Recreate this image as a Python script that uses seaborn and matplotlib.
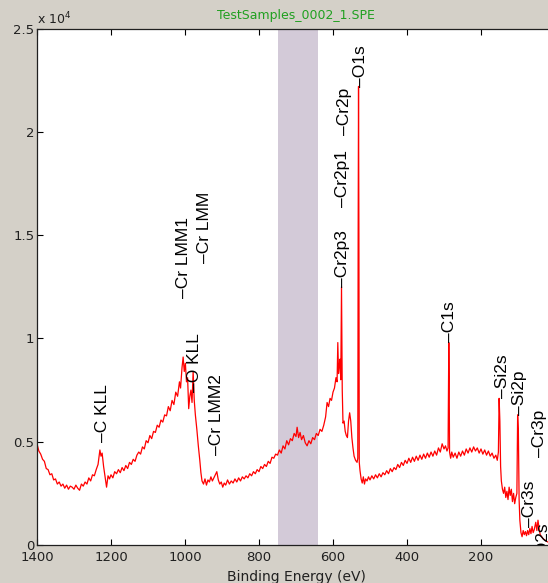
import matplotlib
matplotlib.use("Agg")
import matplotlib.pyplot as plt
import seaborn as sns
import pandas as pd
from matplotlib.ticker import FuncFormatter, FixedLocator

# ---- data (binding energy in eV, intensity in counts) ----
energy = [1400, 1395, 1390, 1385, 1380, 1375, 1370, 1365, 1360, 1355, 1350, 1345, 1340, 1335, 1330, 1325,
          1320, 1315, 1310, 1305, 1300, 1295, 1290, 1285, 1280, 1275, 1270, 1265, 1260, 1255, 1250, 1245,
          1240, 1235, 1230, 1227, 1224, 1220, 1216, 1212, 1208, 1204, 1200, 1195, 1190, 1185, 1180, 1175,
          1170, 1165, 1160, 1155, 1150, 1145, 1140, 1135, 1130, 1125, 1120, 1115, 1110, 1105, 1100, 1095,
          1090, 1085, 1080, 1075, 1070, 1065, 1060, 1055, 1050, 1045, 1040, 1035, 1030, 1025, 1020, 1015,
          1012, 1008, 1005, 1002, 999, 996, 993, 990, 987, 984, 981, 978, 975, 972, 968, 964, 960, 957, 954,
          950, 946, 942, 938, 934, 930, 926, 922, 918, 914, 910, 906, 902, 898, 894, 890, 885, 880, 875, 870,
          865, 860, 855, 850, 845, 840, 835, 830, 825, 820, 815, 810, 805, 800, 795, 790, 785, 780, 775, 770,
          765, 760, 755, 750, 745, 740, 735, 730, 725, 720, 715, 710, 705, 700, 697, 693, 689, 685, 680, 675,
          670, 665, 660, 655, 650, 645, 640, 635, 630, 625, 620, 616, 612, 608, 604, 600, 596, 592, 589, 587,
          585, 583, 581, 579, 577, 575, 573, 570, 567, 564, 561, 558, 555, 552, 549, 546, 543, 539, 535, 533,
          532, 531, 530, 529, 527, 524, 521, 518, 515, 512, 508, 504, 500, 495, 490, 485, 480, 475, 470, 465,
          460, 455, 450, 445, 440, 435, 430, 425, 420, 415, 410, 405, 400, 395, 390, 385, 380, 375, 370, 365,
          360, 355, 350, 345, 340, 335, 330, 325, 320, 315, 310, 305, 300, 296, 292, 289, 287, 286, 285, 282,
          279, 275, 270, 265, 260, 255, 250, 245, 240, 235, 230, 225, 220, 215, 210, 205, 200, 195, 190, 185,
          180, 175, 170, 165, 160, 156, 153, 151, 149, 147, 145, 142, 139, 136, 133, 130, 127, 124, 121, 118,
          115, 112, 109, 106, 103, 101, 99, 97, 95, 92, 89, 86, 83, 80, 77, 74, 71, 68, 65, 62, 59, 56, 52,
          49, 46, 43, 40, 36, 32, 28, 24, 20]
intensity = [4900, 4550, 4400, 4150, 4050, 3700, 3650, 3400, 3450, 3150, 3200, 2950, 3050, 2850, 2950, 2750,
             2900, 2700, 2850, 2800, 2700, 2900, 2750, 2650, 2950, 2850, 3050, 2950, 3250, 3100, 3400, 3350,
             3650, 3900, 4600, 4300, 4450, 3800, 3300, 2800, 3350, 3200, 3400, 3250, 3550, 3450, 3650, 3500,
             3750, 3600, 3850, 3700, 4000, 3900, 4150, 4050, 4350, 4500, 4400, 4750, 4650, 5050, 4950, 5300,
             5150, 5500, 5450, 5800, 5700, 6050, 5950, 6300, 6250, 6700, 6500, 7000, 6800, 7400, 7200, 7900,
             7600, 8600, 9100, 8400, 8800, 7900, 8100, 6600, 7200, 7500, 6900, 8400, 7000, 6300, 5600, 4800,
             4100, 3500, 3100,
             2950, 3200, 2900, 3150, 3050, 3300, 3100, 3250, 3400, 3550, 3150, 2950, 3050, 2800, 3000, 2900,
             3150, 2950, 3100, 3000,
             3200, 3050, 3250, 3100, 3300, 3200, 3350, 3250, 3450, 3350, 3550, 3450, 3650, 3550, 3800, 3700,
             3900, 3800, 4050, 3950,
             4250, 4200, 4400, 4350, 4600, 4450, 4800, 4650, 5050, 4850, 5150, 5050, 5400, 5250, 5700, 5200,
             5450, 5100, 5300, 4950,
             4800, 5050, 4900, 5200, 5100, 5400, 5300, 5600, 5500, 5800, 6200, 6900, 6700, 7100, 7000, 7400,
             7600, 8100, 7900, 9800,
             8300, 8700, 9000, 8000, 12500, 7500, 5900, 6000, 5500, 5300, 5200, 6000, 6400, 6000, 5200, 4700,
             4300, 4100, 4000, 4200,
             15000, 22200, 15200, 4000, 3600, 3200, 3000, 3300, 2950, 3200, 3100, 3300, 3150, 3350, 3200, 3400,
             3250, 3450, 3300, 3500,
             3400, 3600, 3450, 3700, 3550, 3750, 3650, 3900, 3750, 4000, 3850, 4100, 3950, 4200, 4000, 4250,
             4050, 4300, 4100, 4350,
             4150, 4400, 4200, 4450, 4250, 4500, 4300, 4550, 4350, 4700, 4500, 4900, 4650, 4800, 4550, 4700,
             9800, 8100, 4500, 4200,
             4500, 4250, 4450, 4200, 4500, 4300, 4550, 4350, 4650, 4450, 4700, 4500, 4750, 4550, 4700, 4450,
             4650, 4400, 4600, 4350,
             4550, 4300, 4450, 4200, 4350, 4100, 4500, 7100, 6000, 3800, 3100, 2700, 2500, 2800, 2300, 2600,
             2200, 2800, 2400, 2700,
             2100, 2500, 2000, 2300, 2500, 6300, 5500, 2200, 1200, 600, 400, 700, 500, 650, 450, 700, 500, 800,
             550, 900, 600, 750, 1100,
             700, 1200, 800, 500, 400, 300, 250, 200, 150]

# ---- peak labels: text, energy position, intensity of label start ----
label_texts = ["C KLL", "Cr LMM1", "Cr LMM", "O KLL", "Cr LMM2", "Cr2p3", "Cr2p1", "Cr2p", "O1s",
               "C1s", "Si2s", "Si2p", "Cr3p", "Cr3s", "O2s"]
label_energy = [1224, 1005, 946, 973, 914, 573, 573, 569, 527, 284, 143, 95, 41, 68, 32]
label_level = [4990, 11960, 13660, 7410, 4360, 12490, 16370, 19850, 22180, 9830, 7120, 6300, 4260, 870, -970]

title_text = "TestSamples_0002_1.SPE"
x_ticks = [1400, 1200, 1000, 800, 600, 400, 200, 0]
y_ticks = [0, 5000, 10000, 15000, 20000, 25000]
band = (750, 640)

df = pd.DataFrame({"Binding Energy (eV)": energy, "Intensity": intensity})

bg = "#d4d0c8"
fig = plt.figure(figsize=(5.48, 5.83), dpi=100, facecolor=bg)
W, H = 548, 583
ax = fig.add_axes([37 / W, 1 - 545 / H, (555 - 37) / W, (545 - 28.6) / H])
ax.set_facecolor("white")

ax.axvspan(band[0], band[1], color="#d3cad8", lw=0, zorder=0)
sns.lineplot(data=df, x="Binding Energy (eV)", y="Intensity", ax=ax, color="#ff0000",
             linewidth=0.9, estimator=None, sort=False, zorder=2)

ax.set_xlim(1400, 0)
ax.set_ylim(0, 25000)
ax.xaxis.set_major_locator(FixedLocator(x_ticks))
ax.yaxis.set_major_locator(FixedLocator(y_ticks))
ax.yaxis.set_major_formatter(FuncFormatter(lambda v, p: f"{v/1e4:g}"))
ax.xaxis.set_major_formatter(FuncFormatter(lambda v, p: f"{v:g}"))
ax.tick_params(direction="in", length=4, width=0.8, top=True, right=True,
               labelsize=9.5, labelcolor="#202020")
ax.tick_params(axis="x", pad=4)
ax.tick_params(axis="y", pad=2)
for s in ax.spines.values():
    s.set_linewidth(0.9)
    s.set_color("#202020")
ax.set_ylabel("")
ax.set_xlabel("Binding Energy (eV)", fontsize=10, color="#202020", labelpad=5)

for t, e, lv in zip(label_texts, label_energy, label_level):
    ax.text(e, lv, "\u2013" + t, rotation=90, ha="center", va="bottom",
            fontsize=12.5, family="Liberation Sans", color="black", clip_on=True, zorder=3)

ax.text(0.0, 1.003, "x 10$^4$", transform=ax.transAxes, ha="left", va="bottom",
        fontsize=9, color="#202020")
fig.text(296 / W, 1 - 16 / H, title_text, ha="center", va="center", fontsize=9, color="#20a020")

fig.savefig("out.png", dpi=100, facecolor=bg)
